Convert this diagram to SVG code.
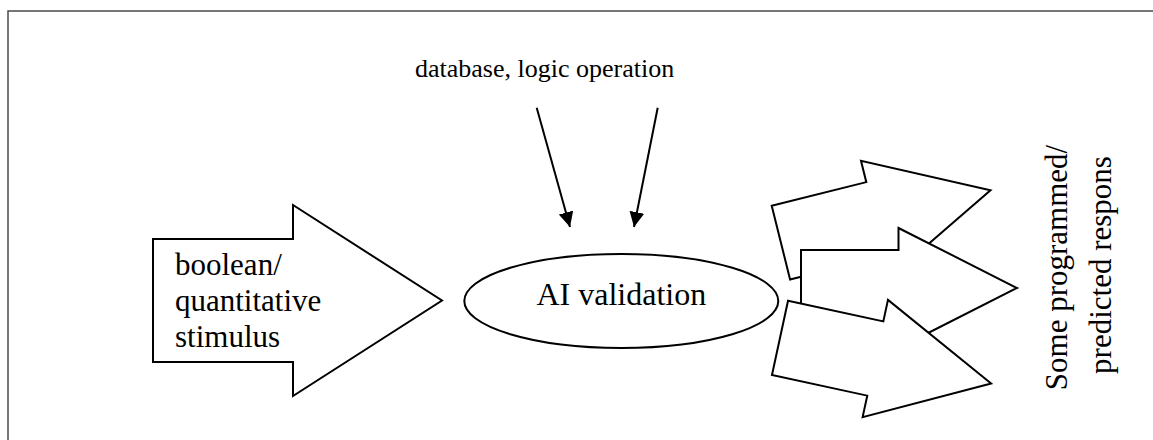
<svg xmlns="http://www.w3.org/2000/svg" width="1153" height="440" viewBox="0 0 1153 440">
  <defs>
    <style>
      .txt { font-family: "Liberation Serif", "Times New Roman", serif; fill: #000; }
      .shape { fill: #fff; stroke: #000; stroke-width: 2; stroke-linejoin: miter; }
      .link { fill: none; stroke: #000; stroke-width: 2; }
    </style>
    <!-- block arrow: tail at x=0, centred on y=0, pointing along +x -->
    <polygon id="blockArrow" points="0,-38 97.5,-38 97.5,-60 216,0 97.5,60 97.5,38 0,38"/>
    <marker id="head" viewBox="0 0 10 10" refX="10" refY="5" markerWidth="7.5" markerHeight="7.5" orient="auto" markerUnits="strokeWidth">
      <path d="M0,0 L10,5 L0,10 z" fill="#000"/>
    </marker>
  </defs>

  <rect width="1153" height="440" fill="#fff"/>
  <!-- page frame -->
  <path d="M8,440 V11 H1153" fill="none" stroke="#4a4a4a" stroke-width="1.5"/>

  <g id="label-sources">
    <text class="txt" x="415" y="77" font-size="26">database, logic operation</text>
  </g>

  <g id="connectors">
    <line class="link" x1="536.7" y1="107.7" x2="570" y2="227" marker-end="url(#head)"/>
    <line class="link" x1="657.7" y1="107.7" x2="634" y2="227" marker-end="url(#head)"/>
  </g>

  <g id="node-stimulus">
    <polygon class="shape" points="153,239 293,239 293,205 442,300.5 293,396 293,362 153,362"/>
    <text class="txt" font-size="31">
      <tspan x="175" y="275">boolean/</tspan>
      <tspan x="175" y="311">quantitative</tspan>
      <tspan x="175" y="347">stimulus</tspan>
    </text>
  </g>

  <g id="node-validation">
    <ellipse class="shape" cx="621.3" cy="301" rx="157" ry="47"/>
    <text class="txt" x="621.3" y="304.5" font-size="32" text-anchor="middle">AI validation</text>
  </g>

  <g id="node-responses">
    <use href="#blockArrow" class="shape" transform="translate(780.9,242.6) rotate(-14)"/>
    <use href="#blockArrow" class="shape" transform="translate(801,288)"/>
    <use href="#blockArrow" class="shape" transform="translate(780,337.9) rotate(12.2)"/>
  </g>

  <g id="label-responses">
    <text class="txt" font-size="31" text-anchor="middle" transform="translate(1067,267.5) rotate(-90)">Some programmed/</text>
    <text class="txt" font-size="31" text-anchor="middle" transform="translate(1110.5,265) rotate(-90)">predicted respons</text>
  </g>
</svg>
